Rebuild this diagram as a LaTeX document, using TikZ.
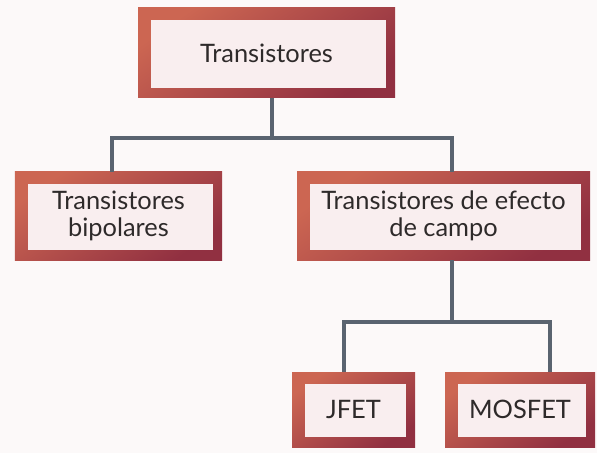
\documentclass[tikz,border=0pt]{standalone}
\usepackage{fontspec}
\setmainfont{Lato}
\definecolor{bgc}{HTML}{FCF9F9}
\definecolor{innerc}{HTML}{F9EEEF}
\definecolor{frameA}{HTML}{CC6652}
\definecolor{frameB}{HTML}{913041}
\definecolor{linec}{HTML}{5A6470}
\definecolor{textc}{HTML}{2E2A2A}
\tikzset{
  boxnode/.style={rectangle, inner sep=0pt, outer sep=0pt,
    top color=frameA, bottom color=frameB, shading angle=35,
    text=textc, align=center, font=\fontsize{25.5}{26.5}\selectfont,
    path picture={\fill[innerc]
      ([xshift=13bp,yshift=-12bp]path picture bounding box.north west) rectangle
      ([xshift=-9bp,yshift=10bp]path picture bounding box.south east);}},
  conn/.style={draw=linec, line width=3.6bp}
}
\begin{document}
\begin{tikzpicture}[x=1bp,y=-1bp]
\fill[bgc] (0,0) rectangle (597,453);
\useasboundingbox (0,0) rectangle (597,453);
\node[boxnode, minimum width=257bp, minimum height=90bp] (top) at (266.5,53) {Transistores};
\node[boxnode, minimum width=207bp, minimum height=88bp] (bip) at (118.5,216) {Transistores\\bipolares};
\node[boxnode, minimum width=293bp, minimum height=88bp] (fet) at (443.5,216) {Transistores de efecto\\de campo};
\node[boxnode, minimum width=123bp, minimum height=75bp] (jfet) at (353.5,409.5) {JFET};
\node[boxnode, minimum width=150bp, minimum height=75bp] (mos) at (520,409.5) {MOSFET};
\coordinate (j1) at (272,138);
\coordinate (j2) at (452,322);
\coordinate (sb) at (112,138);
\coordinate (sf) at (452,138);
\coordinate (sj) at (344,322);
\coordinate (sm) at (550,322);
\draw[conn] (j1 |- top.south) -- (j1);
\draw[conn] (sb |- bip.north) -- (sb) -- (sf) -- (sf |- fet.north);
\draw[conn] (j2 |- fet.south) -- (j2);
\draw[conn] (sj |- jfet.north) -- (sj) -- (sm) -- (sm |- mos.north);
\end{tikzpicture}
\end{document}
